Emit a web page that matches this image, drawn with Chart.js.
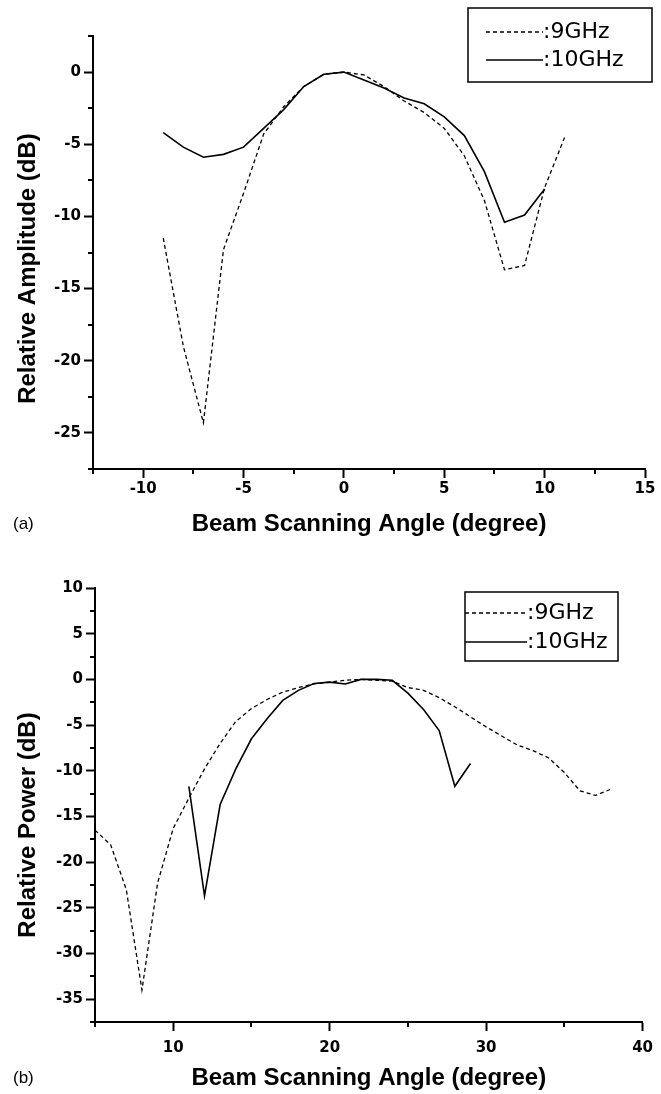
<!DOCTYPE html>
<html>
<head>
<meta charset="utf-8">
<script src="https://cdn.jsdelivr.net/npm/chart.js@4.4.1/dist/chart.umd.min.js"></script>
<style>
    body { margin: 0; background: #fff; width: 661px; height: 1094px; position: relative; overflow: hidden; }
    canvas { position: absolute; left: 0; }
    .panel { position: absolute; left: 13px; font: 17px "Liberation Sans", Arial, sans-serif; color: #000; }
</style>
</head>
<body>
<canvas id="graficaA" width="661" height="547" style="top:0"></canvas>
<canvas id="graficaB" width="661" height="547" style="top:547px"></canvas>
<div class="panel" style="top:514px">(a)</div>
<div class="panel" style="top:1068px">(b)</div>
<script>
const series = ["9GHz", "10GHz"];

// (a) amplitud relativa
const angulosA9 = [-9, -8, -7, -6, -5, -4, -3, -2, -1, 0, 1, 2, 3, 4, 5, 6, 7, 8, 9, 10, 11];
const amplitudA9 = [-11.5, -19.0, -24.3, -12.3, -8.4, -4.3, -2.4, -1.0, -0.15, 0, -0.2, -1.0, -2.0, -2.8, -3.9, -5.8, -8.9, -13.7, -13.4, -8.0, -4.5];
const angulosA10 = [-9, -8, -7, -6, -5, -4, -3, -2, -1, 0, 1, 2, 3, 4, 5, 6, 7, 8, 9, 10];
const amplitudA10 = [-4.2, -5.2, -5.9, -5.7, -5.2, -3.9, -2.6, -1.0, -0.15, 0, -0.55, -1.1, -1.8, -2.2, -3.1, -4.4, -6.9, -10.4, -9.9, -8.1];
const ticksXA = [-10, -5, 0, 5, 10, 15];
const ticksYA = [-25, -20, -15, -10, -5, 0];

// (b) potencia relativa
const angulosB9 = [5, 6, 7, 8, 9, 10, 11, 12, 13, 14, 15, 16, 17, 18, 19, 20, 21, 22, 23, 24, 25, 26, 27, 28, 29, 30, 31, 32, 33, 34, 35, 36, 37, 38];
const potenciaB9 = [-16.5, -18.1, -23.0, -34.0, -22.3, -16.3, -13.0, -9.8, -7.0, -4.6, -3.2, -2.2, -1.4, -0.9, -0.5, -0.3, -0.1, 0, -0.1, -0.2, -0.9, -1.2, -2.0, -3.0, -4.1, -5.2, -6.2, -7.2, -7.8, -8.6, -10.2, -12.2, -12.7, -12.0];
const angulosB10 = [11, 12, 13, 14, 15, 16, 17, 18, 19, 20, 21, 22, 23, 24, 25, 26, 27, 28, 29];
const potenciaB10 = [-11.7, -23.7, -13.7, -9.8, -6.5, -4.3, -2.3, -1.2, -0.45, -0.3, -0.5, 0, 0, -0.1, -1.5, -3.3, -5.6, -11.7, -9.2];
const ticksXB = [10, 20, 30, 40];
const ticksYB = [-35, -30, -25, -20, -15, -10, -5, 0, 5, 10];

const fuenteTicks = { family: "DejaVu Sans", size: 15, weight: "bold" };
const fuenteTitulo = { family: "Liberation Sans", size: 24, weight: "bold" };

function puntos(xs, ys) {
    return xs.map((x, i) => ({ x, y: ys[i] }));
}

function serie(nombre, datos, discontinua) {
    return {
        label: nombre,
        data: datos,
        borderColor: "#000",
        borderWidth: discontinua ? 1.3 : 1.6,
        borderDash: discontinua ? [4, 3] : [],
        pointRadius: 0,
        tension: 0,
        fill: false
    };
}

function eje(min, max, marcas, padding, tam, esX) {
    return {
        type: "linear",
        min,
        max,
        afterBuildTicks: escala => { escala.ticks = marcas.map(v => ({ value: v })); },
        afterFit: escala => { if (esX) escala.height = tam; else escala.width = tam; },
        border: { color: "#000", width: 2 },
        grid: { drawOnChartArea: false, tickLength: 9, tickWidth: 2, tickColor: "#000" },
        ticks: { color: "#000", font: fuenteTicks, padding, maxRotation: 0, autoSkip: false }
    };
}

// marcas menores cortas entre las principales
const ticksMenores = {
    id: "ticksMenores",
    afterDraw(chart, args, o) {
        const { ctx, chartArea, scales } = chart;
        const mayoresX = scales.x.ticks.map(t => t.value);
        const mayoresY = scales.y.ticks.map(t => t.value);
        ctx.save();
        ctx.strokeStyle = "#000";
        ctx.lineWidth = 2;
        ctx.beginPath();
        for (let v = scales.x.min; v <= scales.x.max + 1e-9; v += o.pasoX) {
            if (mayoresX.includes(v)) continue;
            const px = Math.round(scales.x.getPixelForValue(v));
            ctx.moveTo(px, chartArea.bottom);
            ctx.lineTo(px, chartArea.bottom + 5);
        }
        for (let v = scales.y.min; v <= scales.y.max + 1e-9; v += o.pasoY) {
            if (mayoresY.includes(v)) continue;
            const py = Math.round(scales.y.getPixelForValue(v));
            ctx.moveTo(chartArea.left, py);
            ctx.lineTo(chartArea.left - 5, py);
        }
        ctx.stroke();
        ctx.restore();
    }
};

const leyendaCaja = {
    id: "leyendaCaja",
    afterDraw(chart, args, o) {
        const ctx = chart.ctx;
        ctx.save();
        ctx.strokeStyle = "#000";
        ctx.fillStyle = "#000";
        ctx.lineWidth = 1.5;
        ctx.strokeRect(o.x, o.y, o.ancho, o.alto);
        ctx.font = '22px "DejaVu Sans"';
        ctx.textBaseline = "middle";
        chart.data.datasets.forEach((ds, i) => {
            const fy = o.filaY + i * o.filaPaso;
            ctx.setLineDash(ds.borderDash || []);
            ctx.lineWidth = ds.borderWidth;
            ctx.beginPath();
            ctx.moveTo(o.lineaX, fy);
            ctx.lineTo(o.textoX, fy);
            ctx.stroke();
            ctx.setLineDash([]);
            ctx.fillText(":" + ds.label, o.textoX, fy);
        });
        ctx.restore();
    }
};

const tituloY = {
    id: "tituloY",
    afterDraw(chart, args, o) {
        const { ctx, chartArea } = chart;
        ctx.save();
        ctx.translate(o.x, (chartArea.top + chartArea.bottom) / 2 + o.dy);
        ctx.rotate(-Math.PI / 2);
        ctx.font = 'bold 24px "Liberation Sans"';
        ctx.fillStyle = "#000";
        ctx.textAlign = "center";
        ctx.textBaseline = "middle";
        ctx.fillText(o.texto, 0, 0);
        ctx.restore();
    }
};

function tituloX(paddingInferior) {
    return {
        display: true,
        text: "Beam Scanning Angle (degree)",
        color: "#000",
        font: fuenteTitulo,
        padding: { top: 0, bottom: paddingInferior }
    };
}

new Chart(document.getElementById("graficaA"), {
    type: "line",
    data: {
        datasets: [
            serie(series[0], puntos(angulosA9, amplitudA9), true),
            serie(series[1], puntos(angulosA10, amplitudA10), false)
        ]
    },
    options: {
        responsive: false,
        animation: false,
        devicePixelRatio: 1,
        layout: { padding: { top: 36, right: 16, left: 0, bottom: 0 } },
        plugins: {
            legend: { display: false },
            tooltip: { enabled: false },
            ticksMenores: { pasoX: 2.5, pasoY: 2.5 },
            leyendaCaja: { x: 468, y: 8, ancho: 184, alto: 74, lineaX: 486, textoX: 543, filaY: 32, filaPaso: 28 },
            tituloY: { texto: "Relative Amplitude (dB)", x: 28, dy: 16 }
        },
        scales: {
            x: { ...eje(-12.5, 15, ticksXA, 2, 78, true), title: tituloX(8) },
            y: eje(-27.5, 2.5, ticksYA, 3, 93, false)
        }
    },
    plugins: [ticksMenores, leyendaCaja, tituloY]
});

new Chart(document.getElementById("graficaB"), {
    type: "line",
    data: {
        datasets: [
            serie(series[0], puntos(angulosB9, potenciaB9), true),
            serie(series[1], puntos(angulosB10, potenciaB10), false)
        ]
    },
    options: {
        responsive: false,
        animation: false,
        devicePixelRatio: 1,
        layout: { padding: { top: 41, right: 16, left: 0, bottom: 0 } },
        plugins: {
            legend: { display: false },
            tooltip: { enabled: false },
            ticksMenores: { pasoX: 5, pasoY: 2.5 },
            leyendaCaja: { x: 465, y: 45, ancho: 153, alto: 69, lineaX: 465, textoX: 527, filaY: 66, filaPaso: 29 },
            tituloY: { texto: "Relative Power (dB)", x: 28, dy: 20 }
        },
        scales: {
            x: { ...eje(5, 40, ticksXB, 8, 72, true), title: tituloX(1) },
            y: eje(-37.5, 10, ticksYB, 3, 95, false)
        }
    },
    plugins: [ticksMenores, leyendaCaja, tituloY]
});
</script>
</body>
</html>
